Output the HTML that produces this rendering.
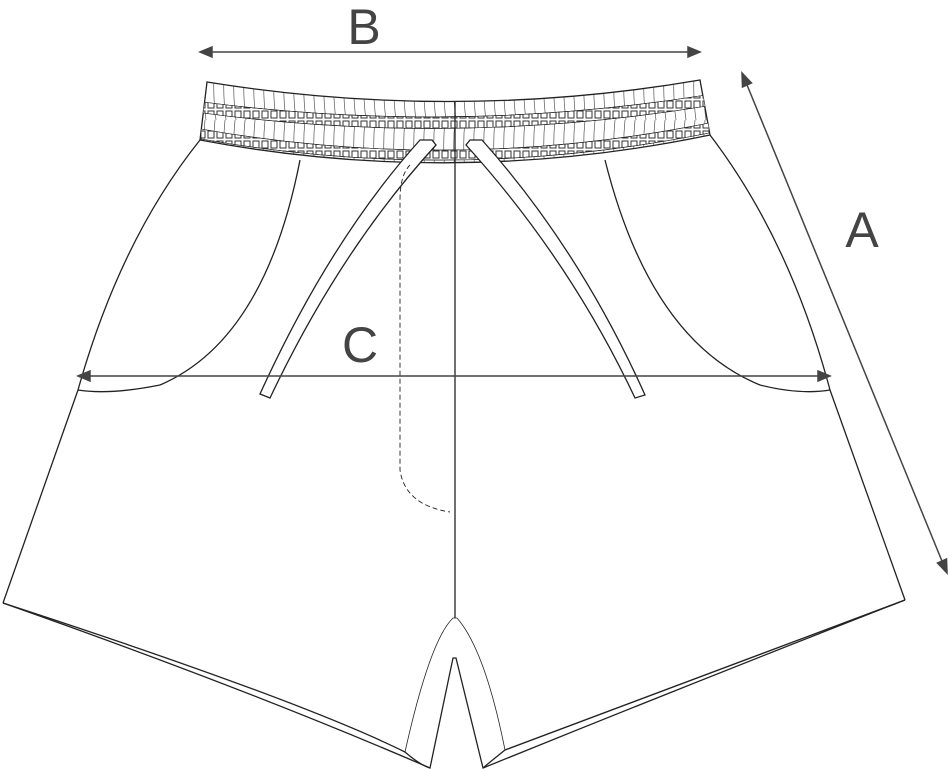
<!DOCTYPE html>
<html><head><style>body{margin:0;background:#fff}svg{display:block}</style></head><body>
<svg width="949" height="769" viewBox="0 0 949 769" xmlns="http://www.w3.org/2000/svg">
<defs>
<pattern id="st" width="9" height="10" patternUnits="userSpaceOnUse"><rect x="1" y="1" width="6" height="7" fill="none" stroke="#333" stroke-width="1"/></pattern>
<pattern id="gath" width="10" height="60" patternUnits="userSpaceOnUse"><path d="M5 0 q-3 30 1 60" fill="none" stroke="#555" stroke-width="0.7"/></pattern>
<clipPath id="wb"><path d="M207 82 Q455 122 700 80 L710 135 Q455 188 200 140 Z"/></clipPath>
</defs>
<g fill="none" stroke="#222" stroke-width="1.3">
<!-- waistband -->
<path d="M207 82 Q455 122 700 80 L710 135 Q455 188 200 140 Z" fill="url(#gath)"/>
<g clip-path="url(#wb)">
<path d="M203 102 Q455 135 706 95 L707 106 Q455 147 203 113 Z" fill="#fff" stroke-width="0.6"/>
<path d="M203 102 Q455 135 706 95 L707 106 Q455 147 203 113 Z" fill="url(#st)" stroke-width="0.6"/>
<path d="M201 129 Q455 174 709 123 L709 133 Q455 184 201 139 Z" fill="#fff" stroke-width="0.6"/>
<path d="M201 129 Q455 174 709 123 L709 133 Q455 184 201 139 Z" fill="url(#st)" stroke-width="0.6"/>
</g>
<!-- body -->
<path d="M200 140 Q120 240 78 390 L3 603"/>
<path d="M710 135 Q790 240 830 390 L905 600"/>
<path d="M455 102 L455 618"/>
<!-- hems -->
<path d="M3 603 Q250 690 430 768 L453 658 L456 658 L483 768 Q700 680 905 600"/>
<path d="M3 603 Q300 700 405 752 Q420 765 430 768"/>
<path d="M905 600 Q560 730 505 750 Q490 762 483 768"/>
<path d="M405 752 Q430 640 453 618 L457 618 Q485 650 505 750" stroke-width="0.8"/>
<!-- pockets -->
<path d="M300 160 Q265 340 160 385 Q110 395 78 390"/>
<path d="M605 160 Q650 340 760 385 Q800 395 830 390"/>
<!-- drawstrings -->
<path d="M432 140 L420 140 Q330 240 260 394 L270 398 Q340 250 436 145 Z" fill="#fff"/>
<path d="M470 140 L482 140 Q580 250 645 395 L635 398 Q570 260 466 145 Z" fill="#fff"/>
<!-- fly -->
<path d="M410 165 Q400 175 400 200 L400 470 Q405 505 450 512" stroke-dasharray="5 3" stroke-width="0.9"/>
</g>
<g stroke="#444" stroke-width="1.5" fill="#444">
<line x1="206" y1="52" x2="694" y2="52"/>
<path d="M200 52 l12 -5 v10 z M700 52 l-12 -5 v10 z"/>
<line x1="84" y1="376" x2="824" y2="376"/>
<path d="M78 376 l12 -5 v10 z M830 376 l-12 -5 v10 z"/>
<line x1="745" y1="80" x2="944" y2="566"/>
<path d="M742 73 l0.5 14 l9 -4 z M947 573 l-0.5 -14 l-9 4 z"/>
</g>
<g font-family="Liberation Sans, sans-serif" font-size="50" fill="#444" text-anchor="middle">
<text x="364" y="44">B</text>
<text x="862" y="247">A</text>
<text x="360" y="362">C</text>
</g>
</svg>
</body></html>
